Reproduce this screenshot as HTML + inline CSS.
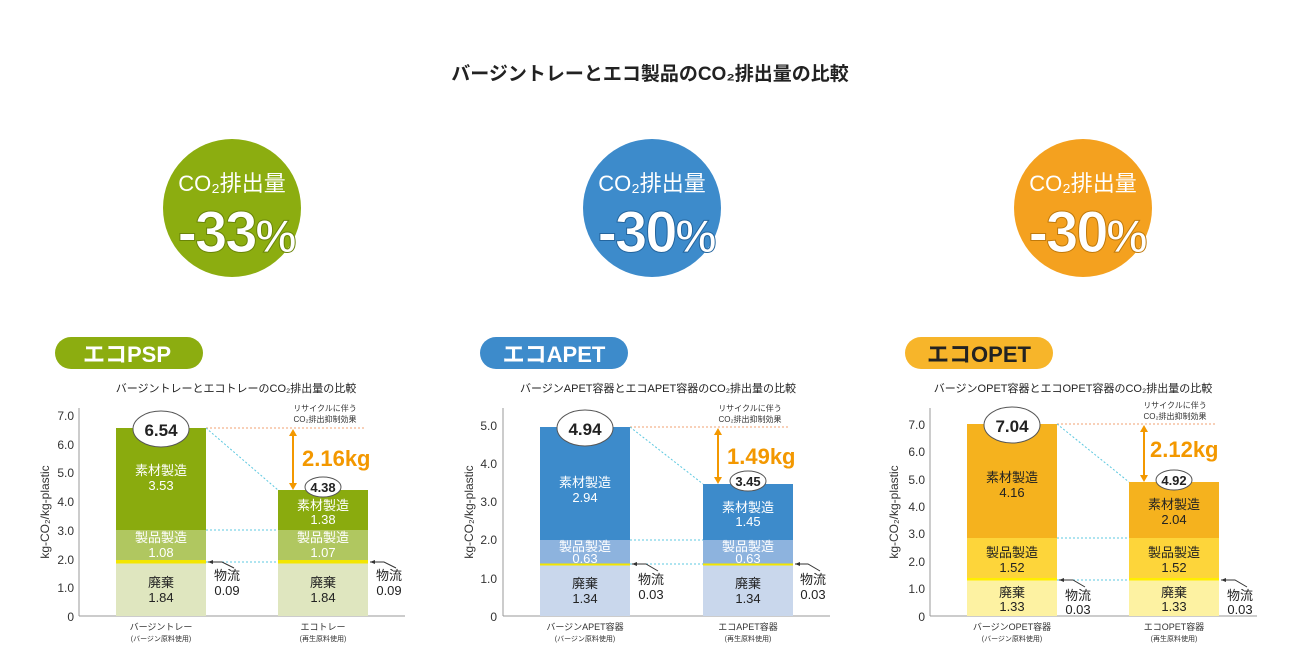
<!DOCTYPE html>
<html><head><meta charset="utf-8"><style>
body{margin:0;background:#fff;}
svg{display:block;font-family:"Liberation Sans","Noto Sans CJK JP",sans-serif;}
</style></head><body>
<svg width="1289" height="666" viewBox="0 0 1289 666" xmlns="http://www.w3.org/2000/svg">
<text x="650" y="80" text-anchor="middle" font-size="19" font-weight="bold" fill="#222">バージントレーとエコ製品のCO₂排出量の比較</text>

<g font-weight="bold" text-anchor="middle">
<circle cx="232" cy="208" r="69" fill="#8cad10"/>
<text x="232" y="191" font-size="22" fill="#fff" font-weight="normal">CO₂排出量</text>
<text x="236" y="252" font-size="58" fill="#fff" stroke="#6a8508" stroke-width="1" letter-spacing="-2">-33<tspan font-size="46">%</tspan></text>
<circle cx="652" cy="208" r="69" fill="#3d8bcb"/>
<text x="652" y="191" font-size="22" fill="#fff" font-weight="normal">CO₂排出量</text>
<text x="656" y="252" font-size="58" fill="#fff" stroke="#24659e" stroke-width="1" letter-spacing="-2">-30<tspan font-size="46">%</tspan></text>
<circle cx="1083" cy="208" r="69" fill="#f4a11f"/>
<text x="1083" y="191" font-size="22" fill="#fff" font-weight="normal">CO₂排出量</text>
<text x="1087" y="252" font-size="58" fill="#fff" stroke="#c07a0c" stroke-width="1" letter-spacing="-2">-30<tspan font-size="46">%</tspan></text>
</g>

<rect x="55" y="337" width="148" height="32" rx="16" fill="#8cad10"/>
<text x="127" y="362" text-anchor="middle" font-size="22" font-weight="bold" fill="#fff">エコPSP</text>
<rect x="480" y="337" width="148" height="32" rx="16" fill="#3d8bcb"/>
<text x="554" y="362" text-anchor="middle" font-size="22" font-weight="bold" fill="#fff">エコAPET</text>
<rect x="905" y="337" width="148" height="32" rx="16" fill="#f7b52a"/>
<text x="979" y="362" text-anchor="middle" font-size="22" font-weight="bold" fill="#222">エコOPET</text>

<g font-size="11" fill="#222" text-anchor="middle">
<text x="236" y="392">バージントレーとエコトレーのCO₂排出量の比較</text>
<text x="658" y="392">バージンAPET容器とエコAPET容器のCO₂排出量の比較</text>
<text x="1073" y="392">バージンOPET容器とエコOPET容器のCO₂排出量の比較</text>
</g>

<g>
<line x1="79" y1="408" x2="79" y2="616" stroke="#999"/>
<line x1="79" y1="616" x2="405" y2="616" stroke="#999"/>
<g font-size="12" fill="#333" text-anchor="end">
<text x="74" y="420">7.0</text>
<text x="74" y="449">6.0</text><text x="74" y="477">5.0</text><text x="74" y="506">4.0</text>
<text x="74" y="535">3.0</text><text x="74" y="564">2.0</text><text x="74" y="592">1.0</text><text x="74" y="621">0</text>
</g>
<text transform="translate(49,512) rotate(-90)" font-size="12" fill="#333" text-anchor="middle">kg-CO₂/kg-plastic</text>
<rect x="116" y="563" width="90" height="53" fill="#dfe6bf"/>
<rect x="116" y="560" width="90" height="3.5" fill="#f3e600"/>
<rect x="116" y="530" width="90" height="30" fill="#b0c760"/>
<rect x="116" y="428" width="90" height="102" fill="#8aab0e"/>
<rect x="278" y="563" width="90" height="53" fill="#dfe6bf"/>
<rect x="278" y="560" width="90" height="3.5" fill="#f3e600"/>
<rect x="278" y="530" width="90" height="30" fill="#b0c760"/>
<rect x="278" y="490" width="90" height="40" fill="#8aab0e"/>
<g stroke-dasharray="2,2" fill="none">
<line x1="206" y1="428" x2="365" y2="428" stroke="#f0a070"/>
<line x1="206" y1="428" x2="278" y2="490" stroke="#5cc8e0"/>
<line x1="206" y1="530" x2="278" y2="530" stroke="#5cc8e0"/>
<line x1="206" y1="562" x2="278" y2="562" stroke="#5cc8e0"/>
</g>
<g font-size="13" text-anchor="middle" fill="#fff">
<text x="161" y="475">素材製造</text><text x="161" y="490">3.53</text>
<text x="161" y="542">製品製造</text><text x="161" y="557">1.08</text>
<text x="323" y="510">素材製造</text><text x="323" y="524">1.38</text>
<text x="323" y="542">製品製造</text><text x="323" y="557">1.07</text>
</g>
<g font-size="13" text-anchor="middle" fill="#222">
<text x="161" y="587">廃棄</text><text x="161" y="602">1.84</text>
<text x="323" y="587">廃棄</text><text x="323" y="602">1.84</text>
<text x="227" y="580">物流</text><text x="227" y="595">0.09</text>
<text x="389" y="580">物流</text><text x="389" y="595">0.09</text>
</g>
<path d="M234 568 L222 562 L208 562" stroke="#333" fill="none"/><path d="M208 562 l5 -2 v4z" fill="#333"/>
<path d="M396 568 L384 562 L370 562" stroke="#333" fill="none"/><path d="M370 562 l5 -2 v4z" fill="#333"/>
<ellipse cx="161" cy="429" rx="28" ry="18" fill="#fff" stroke="#555"/>
<text x="161" y="436" font-size="17" font-weight="bold" text-anchor="middle" fill="#222">6.54</text>
<ellipse cx="323" cy="487" rx="18" ry="10" fill="#fff" stroke="#555"/>
<text x="323" y="492" font-size="13" font-weight="bold" text-anchor="middle" fill="#222">4.38</text>
<line x1="293" y1="433" x2="293" y2="486" stroke="#f39800" stroke-width="2"/>
<path d="M293 429 l-4 7 h8z M293 490 l-4 -7 h8z" fill="#f39800"/>
<text x="302" y="466" font-size="22" font-weight="bold" fill="#f39800">2.16kg</text>
<g font-size="8" fill="#333" text-anchor="middle"><text x="325" y="411">リサイクルに伴う</text><text x="325" y="422">CO₂排出抑制効果</text></g>
<g font-size="9" fill="#333" text-anchor="middle"><text x="161" y="630">バージントレー</text><text x="161" y="641" font-size="7">(バージン原料使用)</text>
<text x="323" y="630">エコトレー</text><text x="323" y="641" font-size="7">(再生原料使用)</text></g>
</g>

<g>
<line x1="503" y1="408" x2="503" y2="616" stroke="#999"/>
<line x1="503" y1="616" x2="830" y2="616" stroke="#999"/>
<g font-size="12" fill="#333" text-anchor="end">
<text x="497" y="430">5.0</text><text x="497" y="468">4.0</text><text x="497" y="506">3.0</text>
<text x="497" y="544">2.0</text><text x="497" y="583">1.0</text><text x="497" y="621">0</text>
</g>
<text transform="translate(473,512) rotate(-90)" font-size="12" fill="#333" text-anchor="middle">kg-CO₂/kg-plastic</text>
<rect x="540" y="565" width="90" height="51" fill="#c9d7ec"/>
<rect x="540" y="563" width="90" height="2.5" fill="#f3e600"/>
<rect x="540" y="540" width="90" height="23.5" fill="#8db3de"/>
<rect x="540" y="427" width="90" height="113" fill="#3d8bcb"/>
<rect x="703" y="565" width="90" height="51" fill="#c9d7ec"/>
<rect x="703" y="563" width="90" height="2.5" fill="#f3e600"/>
<rect x="703" y="540" width="90" height="23.5" fill="#8db3de"/>
<rect x="703" y="484" width="90" height="56" fill="#3d8bcb"/>
<g stroke-dasharray="2,2" fill="none">
<line x1="630" y1="427" x2="790" y2="427" stroke="#f0a070"/>
<line x1="630" y1="427" x2="703" y2="484" stroke="#5cc8e0"/>
<line x1="630" y1="540" x2="703" y2="540" stroke="#5cc8e0"/>
<line x1="630" y1="564" x2="703" y2="564" stroke="#5cc8e0"/>
</g>
<g font-size="13" text-anchor="middle" fill="#fff">
<text x="585" y="487">素材製造</text><text x="585" y="502">2.94</text>
<text x="585" y="551">製品製造</text><text x="585" y="563">0.63</text>
<text x="748" y="512">素材製造</text><text x="748" y="526">1.45</text>
<text x="748" y="551">製品製造</text><text x="748" y="563">0.63</text>
</g>
<g font-size="13" text-anchor="middle" fill="#222">
<text x="585" y="588">廃棄</text><text x="585" y="603">1.34</text>
<text x="748" y="588">廃棄</text><text x="748" y="603">1.34</text>
<text x="651" y="584">物流</text><text x="651" y="599">0.03</text>
<text x="813" y="584">物流</text><text x="813" y="599">0.03</text>
</g>
<path d="M658 571 L646 564 L632 564" stroke="#333" fill="none"/><path d="M632 564 l5 -2 v4z" fill="#333"/>
<path d="M820 571 L808 564 L795 564" stroke="#333" fill="none"/><path d="M795 564 l5 -2 v4z" fill="#333"/>
<ellipse cx="585" cy="428" rx="28" ry="18" fill="#fff" stroke="#555"/>
<text x="585" y="435" font-size="17" font-weight="bold" text-anchor="middle" fill="#222">4.94</text>
<ellipse cx="748" cy="481" rx="18" ry="10" fill="#fff" stroke="#555"/>
<text x="748" y="486" font-size="13" font-weight="bold" text-anchor="middle" fill="#222">3.45</text>
<line x1="718" y1="432" x2="718" y2="480" stroke="#f39800" stroke-width="2"/>
<path d="M718 428 l-4 7 h8z M718 484 l-4 -7 h8z" fill="#f39800"/>
<text x="727" y="464" font-size="22" font-weight="bold" fill="#f39800">1.49kg</text>
<g font-size="8" fill="#333" text-anchor="middle"><text x="750" y="411">リサイクルに伴う</text><text x="750" y="422">CO₂排出抑制効果</text></g>
<g font-size="9" fill="#333" text-anchor="middle"><text x="585" y="630">バージンAPET容器</text><text x="585" y="641" font-size="7">(バージン原料使用)</text>
<text x="748" y="630">エコAPET容器</text><text x="748" y="641" font-size="7">(再生原料使用)</text></g>
</g>

<g>
<line x1="930" y1="408" x2="930" y2="616" stroke="#999"/>
<line x1="930" y1="616" x2="1257" y2="616" stroke="#999"/>
<g font-size="12" fill="#333" text-anchor="end">
<text x="925" y="429">7.0</text><text x="925" y="456">6.0</text><text x="925" y="484">5.0</text>
<text x="925" y="511">4.0</text><text x="925" y="538">3.0</text><text x="925" y="566">2.0</text>
<text x="925" y="593">1.0</text><text x="925" y="621">0</text>
</g>
<text transform="translate(898,512) rotate(-90)" font-size="12" fill="#333" text-anchor="middle">kg-CO₂/kg-plastic</text>
<rect x="967" y="580" width="90" height="36" fill="#fdf2a2"/>
<rect x="967" y="578" width="90" height="2.5" fill="#ffee00"/>
<rect x="967" y="538" width="90" height="40" fill="#fdd53a"/>
<rect x="967" y="424" width="90" height="114" fill="#f5b21e"/>
<rect x="1129" y="580" width="90" height="36" fill="#fdf2a2"/>
<rect x="1129" y="578" width="90" height="2.5" fill="#ffee00"/>
<rect x="1129" y="538" width="90" height="40" fill="#fdd53a"/>
<rect x="1129" y="482" width="90" height="56" fill="#f5b21e"/>
<g stroke-dasharray="2,2" fill="none">
<line x1="1057" y1="424" x2="1217" y2="424" stroke="#f0a070"/>
<line x1="1057" y1="424" x2="1129" y2="482" stroke="#5cc8e0"/>
<line x1="1057" y1="538" x2="1129" y2="538" stroke="#5cc8e0"/>
<line x1="1057" y1="580" x2="1129" y2="580" stroke="#5cc8e0"/>
</g>
<g font-size="13" text-anchor="middle" fill="#222">
<text x="1012" y="482">素材製造</text><text x="1012" y="497">4.16</text>
<text x="1012" y="557">製品製造</text><text x="1012" y="572">1.52</text>
<text x="1174" y="509">素材製造</text><text x="1174" y="524">2.04</text>
<text x="1174" y="557">製品製造</text><text x="1174" y="572">1.52</text>
<text x="1012" y="597">廃棄</text><text x="1012" y="611">1.33</text>
<text x="1174" y="597">廃棄</text><text x="1174" y="611">1.33</text>
<text x="1078" y="600">物流</text><text x="1078" y="614">0.03</text>
<text x="1240" y="600">物流</text><text x="1240" y="614">0.03</text>
</g>
<path d="M1085 587 L1073 580 L1059 580" stroke="#333" fill="none"/><path d="M1059 580 l5 -2 v4z" fill="#333"/>
<path d="M1247 587 L1235 580 L1221 580" stroke="#333" fill="none"/><path d="M1221 580 l5 -2 v4z" fill="#333"/>
<ellipse cx="1012" cy="425" rx="28" ry="18" fill="#fff" stroke="#555"/>
<text x="1012" y="432" font-size="17" font-weight="bold" text-anchor="middle" fill="#222">7.04</text>
<ellipse cx="1174" cy="480" rx="18" ry="10" fill="#fff" stroke="#555"/>
<text x="1174" y="485" font-size="13" font-weight="bold" text-anchor="middle" fill="#222">4.92</text>
<line x1="1144" y1="429" x2="1144" y2="478" stroke="#f39800" stroke-width="2"/>
<path d="M1144 425 l-4 7 h8z M1144 482 l-4 -7 h8z" fill="#f39800"/>
<text x="1150" y="457" font-size="22" font-weight="bold" fill="#f39800">2.12kg</text>
<g font-size="8" fill="#333" text-anchor="middle"><text x="1175" y="408">リサイクルに伴う</text><text x="1175" y="419">CO₂排出抑制効果</text></g>
<g font-size="9" fill="#333" text-anchor="middle"><text x="1012" y="630">バージンOPET容器</text><text x="1012" y="641" font-size="7">(バージン原料使用)</text>
<text x="1174" y="630">エコOPET容器</text><text x="1174" y="641" font-size="7">(再生原料使用)</text></g>
</g>
</svg>
</body></html>
